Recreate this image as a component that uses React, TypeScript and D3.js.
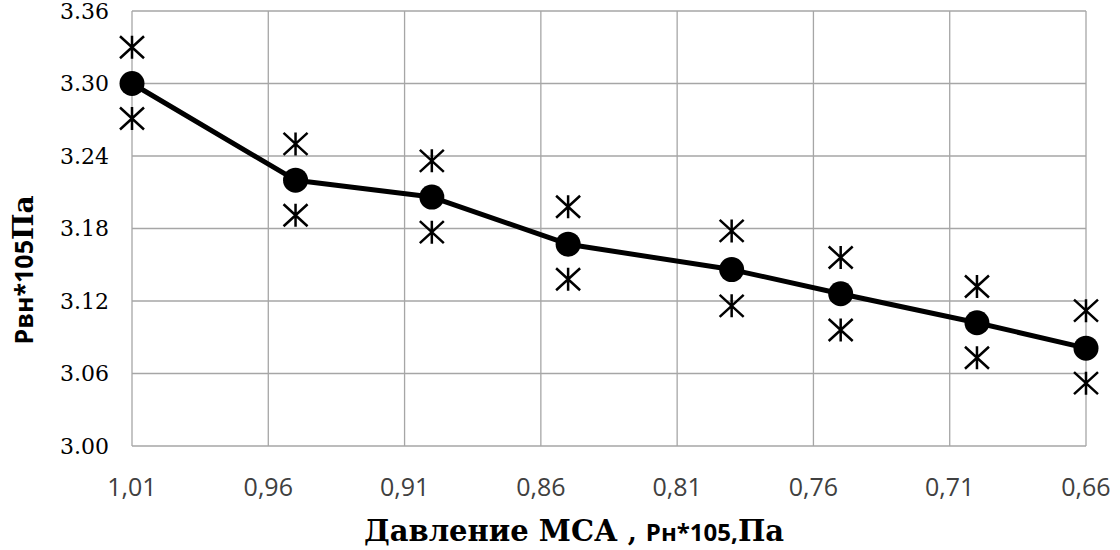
import React from 'react';
import * as d3 from 'd3';

// давление МСА, Рн*10^5 Па
const pressureMCA = [1.01, 0.95, 0.9, 0.85, 0.79, 0.75, 0.7, 0.66];
// средние значения Рвн
const meanValues = [3.3, 3.22, 3.206, 3.167, 3.146, 3.126, 3.102, 3.081];
// верхние и нижние замеры
const upperValues = [3.33, 3.25, 3.236, 3.198, 3.178, 3.156, 3.132, 3.112];
const lowerValues = [3.271, 3.191, 3.177, 3.138, 3.116, 3.096, 3.073, 3.052];

const xTicks = [1.01, 0.96, 0.91, 0.86, 0.81, 0.76, 0.71, 0.66];
const yTicks = [3.0, 3.06, 3.12, 3.18, 3.24, 3.3, 3.36];

const width = 1120;
const height = 550;
const margin = {left: 132, right: 34, top: 11, bottom: 104};

export default function App() {
    const x = d3.scaleLinear().domain([1.01, 0.66]).range([margin.left, width - margin.right]);
    const y = d3.scaleLinear().domain([3.0, 3.36]).range([height - margin.bottom, margin.top]);

    const line = d3.line<number>()
        .x((d, i) => x(pressureMCA[i]))
        .y((d) => y(d));

    const star = (cx: number, cy: number, key: string) => (
        <path key={key}
            d={`M${cx},${cy - 11.5}L${cx},${cy + 11.5}M${cx - 12},${cy - 11}L${cx + 12},${cy + 11}M${cx - 12},${cy + 11}L${cx + 12},${cy - 11}`}
            stroke="#000" strokeWidth={2.5} fill="none" />
    );

    const serif = '"DejaVu Serif", serif';
    const sans = '"Open Sans", sans-serif';

    return (
        <svg width={width} height={height} style={{position: 'absolute', left: 0, top: 0, background: '#fff'}}>
            {/* сетка */}
            <g stroke="#a6a6a6" strokeWidth={1.3}>
                {xTicks.map((t) => (
                    <line key={'gx' + t} x1={x(t)} x2={x(t)} y1={y(3.0)} y2={y(3.36)} />
                ))}
                {yTicks.map((t) => (
                    <line key={'gy' + t} x1={x(1.01)} x2={x(0.66)} y1={y(t)} y2={y(t)} />
                ))}
            </g>

            {/* подписи осей */}
            <g fontFamily={serif} fontSize={22} fill="#000" textAnchor="end">
                {yTicks.map((t) => (
                    <text key={'yl' + t} x={109} y={y(t)} dy="0.36em">{d3.format('.2f')(t)}</text>
                ))}
            </g>
            <g fontFamily={sans} fontSize={25} fill="#404040" textAnchor="middle">
                {xTicks.map((t) => (
                    <text key={'xl' + t} x={x(t)} y={496}>{d3.format('.2f')(t).replace('.', ',')}</text>
                ))}
            </g>

            {/* линия средних */}
            <path d={line(meanValues) || ''} fill="none" stroke="#000" strokeWidth={5} strokeLinejoin="round" />
            {meanValues.map((v, i) => (
                <circle key={'c' + i} cx={x(pressureMCA[i])} cy={y(v)} r={12.5} fill="#000" />
            ))}
            {upperValues.map((v, i) => star(x(pressureMCA[i]), y(v), 'u' + i))}
            {lowerValues.map((v, i) => star(x(pressureMCA[i]), y(v), 'l' + i))}

            {/* заголовки осей */}
            <text x={574} y={541} textAnchor="middle" fontWeight="bold" fill="#000">
                <tspan fontFamily={serif} fontSize={29}>Давление МСА </tspan>
                <tspan fontFamily={serif} fontSize={26}>, </tspan>
                <tspan fontFamily={sans} fontSize={24}>Рн*105,</tspan>
                <tspan fontFamily={serif} fontSize={29}>Па</tspan>
            </text>
            <text transform="translate(33,270) rotate(-90)" textAnchor="middle" fontWeight="bold" fill="#000">
                <tspan fontFamily={sans} fontSize={25}>Рвн*105</tspan>
                <tspan fontFamily={serif} fontSize={28}>Па</tspan>
            </text>
        </svg>
    );
}
